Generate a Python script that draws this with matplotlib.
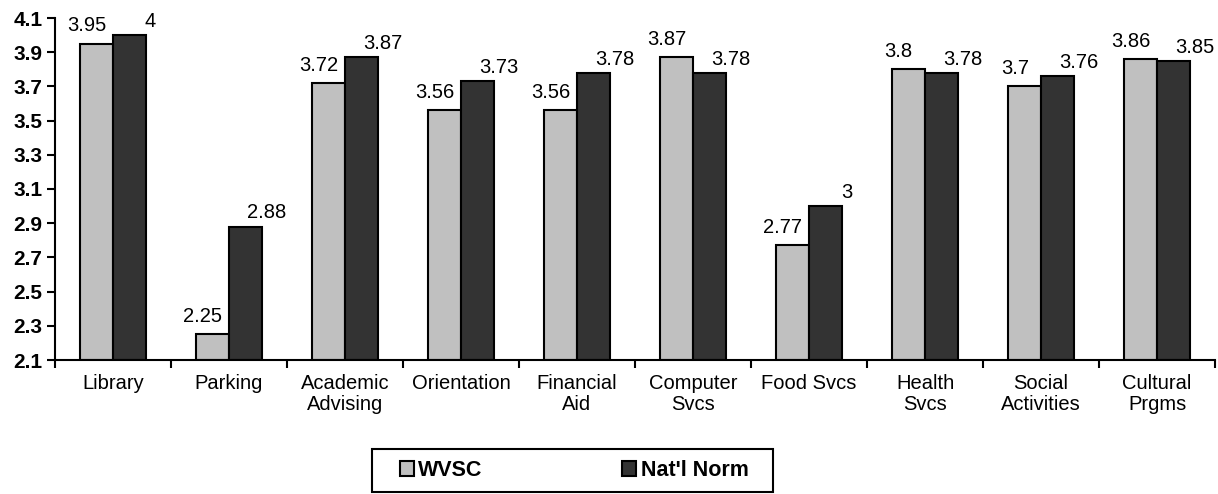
import numpy as np
import matplotlib.pyplot as plt

plt.rcParams['font.family'] = ['Liberation Sans', 'DejaVu Sans']

# данные
categories = ['Library', 'Parking', 'Academic\nAdvising', 'Orientation', 'Financial\nAid',
              'Computer\nSvcs', 'Food Svcs', 'Health\nSvcs', 'Social\nActivities', 'Cultural\nPrgms']
wvsc = [3.95, 2.25, 3.72, 3.56, 3.56, 3.87, 2.77, 3.8, 3.7, 3.86]
norm = [4.0, 2.88, 3.87, 3.73, 3.78, 3.78, 3.0, 3.78, 3.76, 3.85]
wvsc_labels = ['3.95', '2.25', '3.72', '3.56', '3.56', '3.87', '2.77', '3.8', '3.7', '3.86']
norm_labels = ['4', '2.88', '3.87', '3.73', '3.78', '3.78', '3', '3.78', '3.76', '3.85']
yticks = [2.1, 2.3, 2.5, 2.7, 2.9, 3.1, 3.3, 3.5, 3.7, 3.9, 4.1]

ymin, ymax = 2.1, 4.1
w = 0.285
x = np.arange(len(categories))

fig = plt.figure(figsize=(12.18, 4.94), dpi=100)
ax = fig.add_axes([55 / 1218, 134 / 494, 1160 / 1218, 342 / 494])

b1 = ax.bar(x - w / 2, np.array(wvsc) - ymin, w, bottom=ymin, color='#C0C0C0',
            edgecolor='black', linewidth=1.5, label='WVSC')
b2 = ax.bar(x + w / 2, np.array(norm) - ymin, w, bottom=ymin, color='#333333',
            edgecolor='black', linewidth=1.5, label="Nat'l Norm")

# подписи значений
for xi, v, s in zip(x, wvsc, wvsc_labels):
    ax.annotate(s, (xi - w / 2, v), xytext=(-7, 6), textcoords='offset points',
                ha='center', va='bottom', fontsize=14.5)
for xi, v, s in zip(x, norm, norm_labels):
    ax.annotate(s, (xi + w / 2, v), xytext=(15, 3), textcoords='offset points',
                ha='center', va='bottom', fontsize=14.5)

ax.set_xlim(-0.5, len(categories) - 0.5)
ax.set_ylim(ymin, ymax)
ax.set_yticks(yticks)
ax.set_yticklabels([f'{t:.1f}' for t in yticks], fontsize=15, fontweight='bold')
ax.set_xticks(x)
ax.set_xticklabels(categories, fontsize=14.5, linespacing=1.15)
ax.set_xticks(np.arange(len(categories) + 1) - 0.5, minor=True)
ax.tick_params(axis='x', which='major', length=0, pad=10)
ax.tick_params(axis='x', which='minor', length=6, width=1.5, direction='out')
ax.tick_params(axis='y', length=6, width=1.5, direction='out', pad=3)

for sp in ['top', 'right']:
    ax.spines[sp].set_visible(False)
for sp in ['left', 'bottom']:
    ax.spines[sp].set_linewidth(1.5)

# легенда и её рамка
fig.legend(handles=[b1, b2], loc='center', bbox_to_anchor=(574 / 1218, 23.5 / 494),
           ncol=2, frameon=False, prop={'weight': 'bold', 'size': 15.5},
           handlelength=0.65, handleheight=0.65, handletextpad=0.2, columnspacing=6.5,
           borderpad=0, borderaxespad=0)
fig.add_artist(plt.Rectangle((372 / 1218, 2 / 494), 401 / 1218, 43 / 494,
                             transform=fig.transFigure, fill=False, lw=1.5, ec='black'))

plt.savefig('out.png', dpi=100)
